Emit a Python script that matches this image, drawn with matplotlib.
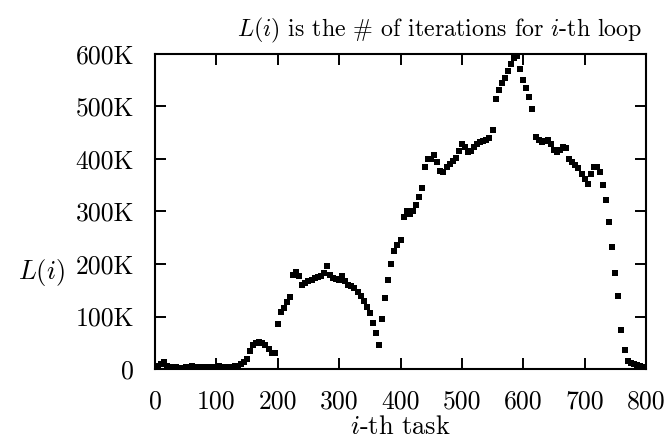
import matplotlib
matplotlib.use("Agg")
import matplotlib.pyplot as plt
import numpy as np

plt.rcParams['font.family'] = ['cmr10', 'DejaVu Serif']
plt.rcParams['mathtext.fontset'] = 'cm'
plt.rcParams['axes.formatter.use_mathtext'] = True

# task index (every 5th task)
tasks = list(range(0, 801, 5))
# L(i) in thousands of iterations
iters_k = [
    3, 5, 10, 14, 6, 3, 3, 3, 2, 2,
    3, 4, 6, 4, 3, 3, 3, 3, 3, 3,
    4, 5, 4, 4, 3, 4, 5, 6, 9, 14,
    20, 35, 45, 49, 51, 50, 45, 38, 30, 30,
    85, 108, 117, 128, 138, 180, 184, 178, 160, 163,
    167, 170, 174, 176, 177, 182, 196, 180, 173, 171,
    170, 178, 168, 160, 158, 155, 147, 140, 130, 118,
    106, 88, 68, 45, 95, 136, 170, 200, 225, 237,
    245, 290, 300, 296, 300, 313, 328, 345, 385, 400,
    400, 407, 395, 378, 376, 385, 391, 396, 402, 415,
    428, 422, 414, 416, 422, 428, 433, 435, 437, 440,
    455, 515, 532, 545, 555, 567, 580, 593, 596, 572,
    550, 535, 518, 495, 442, 437, 433, 435, 436, 428,
    418, 413, 418, 423, 420, 400, 394, 388, 382, 372,
    362, 352, 372, 385, 384, 375, 350, 322, 280, 233,
    182, 140, 75, 36, 15, 11, 10, 8, 6, 3,
    1,
]
xticks = [0, 100, 200, 300, 400, 500, 600, 700, 800]
yticks_k = [0, 100, 200, 300, 400, 500, 600]
ytick_labels = ["0", "100K", "200K", "300K", "400K", "500K", "600K"]

fig = plt.figure(figsize=(6.66, 4.4), dpi=100)
ax = fig.add_axes([155/666, 1-369/440, (646-155)/666, (369-54)/440])

ax.plot(tasks, np.array(iters_k) * 1000, linestyle='none', marker='s',
        markersize=3.8, color='black', markeredgewidth=0)

ax.set_xlim(0, 800)
ax.set_ylim(0, 600000)
ax.set_xticks(xticks)
ax.set_xticklabels([str(t) for t in xticks])
ax.set_yticks([v * 1000 for v in yticks_k])
ax.set_yticklabels(ytick_labels)
ax.tick_params(direction='in', length=8, width=1.4, top=True, right=True,
               labelsize=18.5)
ax.tick_params(axis='x', pad=15)
ax.tick_params(axis='y', pad=15)
for s in ax.spines.values():
    s.set_linewidth(1.5)

fig.text(400/666, 1-434/440, r"$i$-th task", fontsize=19, ha='center', va='baseline')
fig.text(18/666, 1-272/440, r"$L(i)$", fontsize=19, ha='left', va='center')
fig.text(440/666, 1-30/440, r"$L(i)$ is the $\#$ of iterations for $i$-th loop",
         fontsize=17.2, ha='center', va='center')

fig.savefig("out.png", dpi=100)
